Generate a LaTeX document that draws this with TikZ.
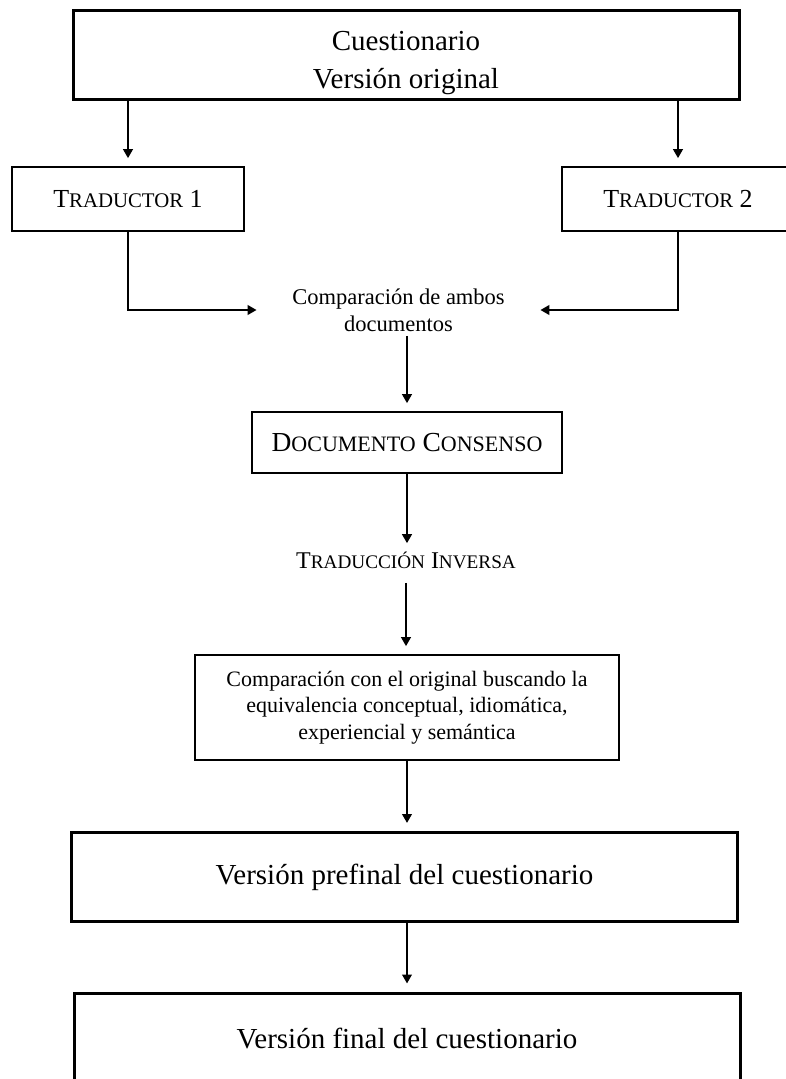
\documentclass[tikz,border=0pt]{standalone}
\usepackage{fontspec}
\setmainfont{Liberation Serif}
\usepackage{graphicx}
\usetikzlibrary{arrows.meta}
\newcommand{\capsmall}[2]{#1\scalebox{0.8}{#2}}
\tikzset{every picture/.style={line width=0.75pt}}
\tikzset{
  mainbox/.style={draw, line width=3pt, minimum width=666pt, minimum height=89pt, inner sep=0pt, align=center, font=\fontsize{29}{38}\selectfont},
  stepbox/.style={draw, line width=1.6pt, inner sep=0pt, align=center},
  plain/.style={inner sep=0pt, align=center},
  flow/.style={line width=2.2pt, -{Triangle[length=9pt,width=9.5pt]}, shorten >=8pt},
  merge/.style={line width=2.8pt, -{Triangle[length=9pt,width=9.5pt]}},
}

\begin{document}
\begin{tikzpicture}[x=1pt,y=-1pt]
    \useasboundingbox (0,0) rectangle (786,1079);
    \clip (0,0) rectangle (786,1079);
    % traducción directa
    \node[mainbox] (orig) at (406,54.5) {\rule{0pt}{36pt}Cuestionario\\Versión original};
    \node[stepbox, minimum width=232pt, minimum height=64pt, font=\fontsize{26}{30}\selectfont] (trad1) at (128,199) {\capsmall{T}{RADUCTOR} 1};
    \node[stepbox, minimum width=232pt, minimum height=64pt, font=\fontsize{26}{30}\selectfont] (trad2) at (678,199) {\capsmall{T}{RADUCTOR} 2};
    \node[plain, minimum width=283pt, font=\fontsize{22.5}{27}\selectfont] (comp) at (398.5,310) {Comparación de ambos\\documentos};
    \draw[flow] (orig.south -| trad1) -- (trad1.north);
    \draw[flow] (orig.south -| trad2) -- (trad2.north);
    \draw[merge] (trad1.south) |- (comp.west);
    \draw[merge] (trad2.south) |- (comp.east);
    % consenso y traducción inversa
    \node[stepbox, minimum width=310pt, minimum height=61pt, font=\fontsize{27.5}{32}\selectfont] (doc) at (407,442.5) {\capsmall{D}{OCUMENTO} \capsmall{C}{ONSENSO}};
    \node[plain, font=\fontsize{24}{28}\selectfont] (inv) at (406,560) {\capsmall{T}{RADUCCIÓN} \capsmall{I}{NVERSA}};
    \node[stepbox, minimum width=424pt, minimum height=105pt, font=\fontsize{22}{26.5}\selectfont] (cmp) at (407,707.5) {Comparación con el original buscando la\\equivalencia conceptual, idiomática,\\experiencial y semántica};
    \draw[flow, shorten <=4pt] (comp.south -| doc.north) -- (doc.north);
    \draw[flow] (doc.south) -- (doc.south |- inv.north);
    \draw[flow, shorten <=14pt] (inv.south) -- (inv.south |- cmp.north);
    % versiones del cuestionario
    \node[mainbox] (pre) at (404.5,877) {Versión prefinal del cuestionario};
    \node[mainbox, minimum height=90pt] (fin) at (407,1038) {Versión final del cuestionario};
    \draw[flow] (cmp.south) -- (cmp.south |- pre.north);
    \draw[flow] (pre.south -| fin.north) -- (fin.north);
\end{tikzpicture}
\end{document}
